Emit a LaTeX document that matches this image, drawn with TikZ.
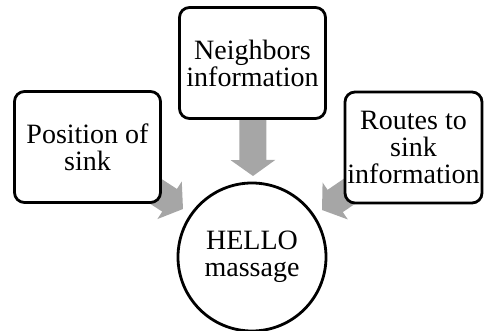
\documentclass[tikz,border=0pt]{standalone}
\usepackage{fontspec}
\setmainfont{Liberation Serif}
\usetikzlibrary{arrows.meta,shapes,backgrounds}

\definecolor{flowgray}{RGB}{166,166,166}

\begin{document}
\begin{tikzpicture}[x=1pt,y=-1pt,
	infobox/.style={draw,line width=2.8pt,rounded corners=10pt,fill=white,
		align=center,inner sep=0pt,minimum width=146pt,minimum height=111pt,
		font=\fontsize{28}{27}\selectfont},
	hub/.style={draw,circle,line width=2.8pt,fill=white,align=center,
		inner sep=0pt,minimum size=148pt,font=\fontsize{28}{27}\selectfont},
	flow/.style={draw=flowgray,line width=27pt,-{Triangle[length=16pt,width=44pt]}}]
	\useasboundingbox (0,0) rectangle (484,331);

	% Sources of the message
	\node[infobox] (pos) at (87.5,147) {Position of\\sink};
	\node[infobox] (nbr) at (252.5,63) {Neighbors\\information};
	\node[infobox,minimum width=137pt] (rts) at (413.5,147.5) {Routes to\\sink\\information};

	% Message
	\node[hub] (hello) at (252,257) {HELLO\\massage};

	% Arrow tips
	\coordinate (tipP) at (183,209);
	\coordinate (tipN) at (253,176);
	\coordinate (tipR) at (322,210);

	\begin{scope}[on background layer]
		\draw[flow] (pos.center) -- (tipP);
		\draw[flow] (nbr.center) -- (tipN);
		\draw[flow] (rts.center) -- (tipR);
	\end{scope}
\end{tikzpicture}
\end{document}
